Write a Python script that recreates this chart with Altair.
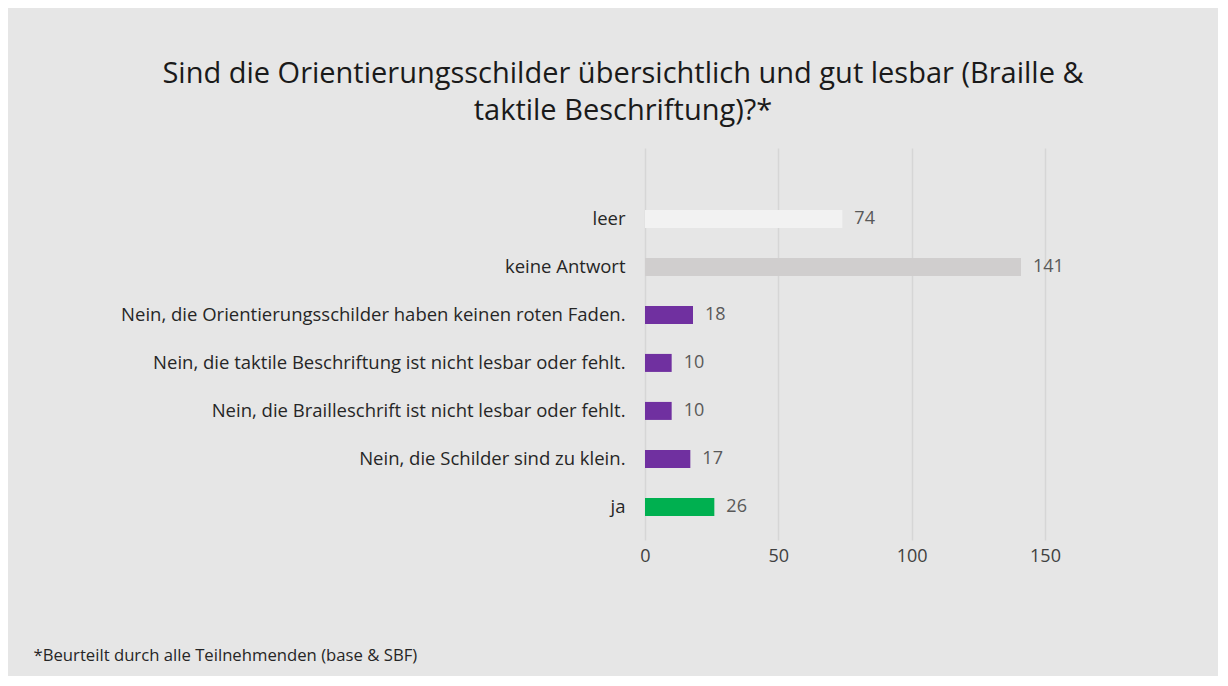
import altair as alt
import pandas as pd

categories = [
    "leer",
    "keine Antwort",
    "Nein, die Orientierungsschilder haben keinen roten Faden.",
    "Nein, die taktile Beschriftung ist nicht lesbar oder fehlt.",
    "Nein, die Brailleschrift ist nicht lesbar oder fehlt.",
    "Nein, die Schilder sind zu klein.",
    "ja",
]
values = [74, 141, 18, 10, 10, 17, 26]
colors = ["#f2f2f2", "#d0cece", "#7030a0", "#7030a0", "#7030a0", "#7030a0", "#00b050"]
x_ticks = [0, 50, 100, 150]

title_lines = [
    "Sind die Orientierungsschilder übersichtlich und gut lesbar (Braille &",
    "taktile Beschriftung)?*",
]
footnote = "*Beurteilt durch alle Teilnehmenden (base & SBF)"

df = pd.DataFrame({"cat": categories, "val": values, "color": colors})

FONT = "Open Sans"

y_enc = alt.Y(
    "cat:N",
    sort=categories,
    scale=alt.Scale(paddingInner=0.625, paddingOuter=0.896, align=0.72),
    axis=alt.Axis(
        title=None, domain=False, ticks=False, labelPadding=20, labelLimit=800,
        labelFontSize=18.5, labelColor="#262626", labelFont=FONT,
    ),
)
x_enc = alt.X(
    "val:Q",
    scale=alt.Scale(domain=[0, 150], nice=False),
    axis=alt.Axis(
        values=x_ticks, grid=True, gridColor="#d6d6d6", gridWidth=1.5,
        domain=False, ticks=False, labelPadding=7, labelFontSize=18,
        labelColor="#404040", labelFont=FONT, labelFlush=False,
        title=footnote, titleFont=FONT, titleFontSize=16.7, titleFontWeight="normal",
        titleColor="#262626", titleAnchor="start", titleAlign="left",
        titleBaseline="middle", titleX=-612, titleY=115,
    ),
)

bars = alt.Chart(df).mark_bar().encode(
    y=y_enc,
    x=x_enc,
    color=alt.Color("color:N", scale=None),
)
labels = alt.Chart(df).mark_text(
    align="left", baseline="middle", dx=12, fontSize=18, color="#595959", font=FONT
).encode(
    y=alt.Y("cat:N", sort=categories),
    x=alt.X("val:Q"),
    text="val:Q",
)

chart = (
    alt.layer(bars, labels)
    .properties(
        width=400,
        height=392,
        padding={"left": 637, "top": 140, "right": 173, "bottom": 136},
        autosize=alt.AutoSizeParams(type="none"),
        background="#e6e6e6",
        title=alt.TitleParams(
            text=title_lines, fontSize=29, font=FONT, fontWeight="normal",
            color="#1a1a1a", lineHeight=37, anchor="middle", dx=-222, offset=22,
        ),
    )
    .configure_view(stroke=None)
)

chart.save("out.html", embed_options={"renderer": "svg", "actions": False})
